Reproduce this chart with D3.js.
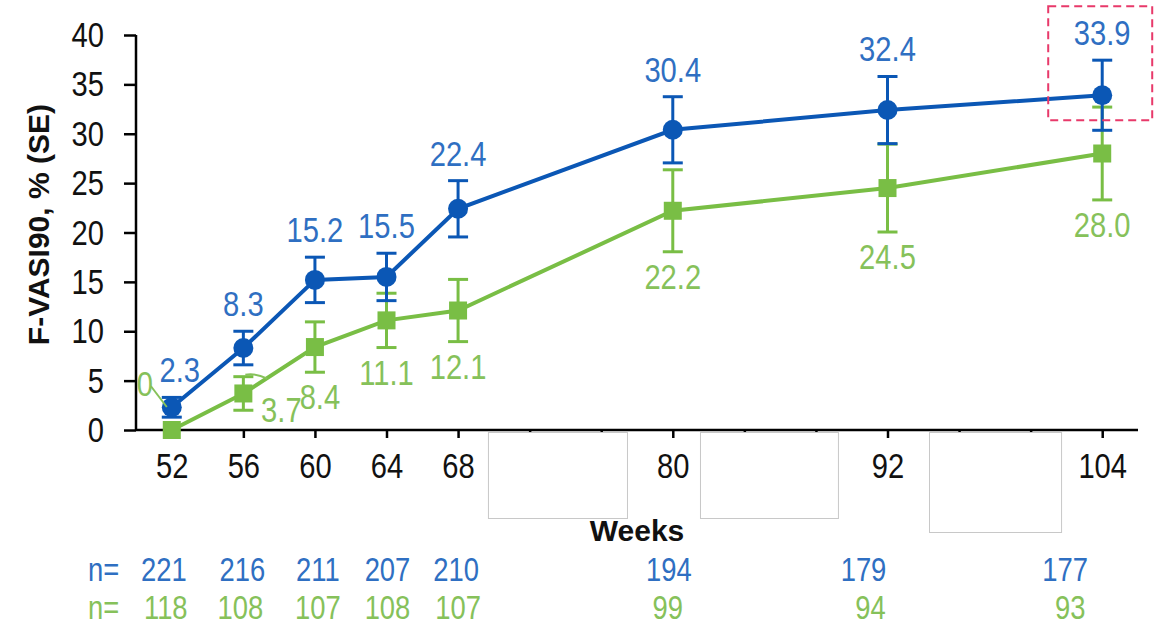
<!DOCTYPE html>
<html>
<head>
<meta charset="utf-8">
<script src="https://cdn.jsdelivr.net/npm/d3@7"></script>
<style>
  html, body { margin: 0; padding: 0; background: #fff; }
  svg { display: block; }
  .num { font-family: "Liberation Sans", Arial, sans-serif; }
  .bold { font-family: "Liberation Sans", Arial, sans-serif; font-weight: bold; }
</style>
</head>
<body>
<svg id="chart" width="1165" height="627"></svg>
<script>
// Visit weeks and response rates (F-VASI90, % with standard error)
const weeks = [52, 56, 60, 64, 68, 80, 92, 104];
const blueValues = [2.3, 8.3, 15.2, 15.5, 22.4, 30.4, 32.4, 33.9];
const blueSE = [1.0, 1.7, 2.3, 2.4, 2.85, 3.35, 3.4, 3.55];
const greenValues = [0, 3.7, 8.4, 11.1, 12.1, 22.2, 24.5, 28.0];
const greenSE = [0, 1.7, 2.55, 2.75, 3.15, 4.15, 4.45, 4.7];
const blueN = [221, 216, 211, 207, 210, 194, 179, 177];
const greenN = [118, 108, 107, 108, 107, 99, 94, 93];
const xTickWeeks = d3.range(52, 105, 4);
const yTickValues = [0, 5, 10, 15, 20, 25, 30, 35, 40];

const colors = {
  blue: "#0B57B5", blueText: "#2F6FC2",
  green: "#79BE45", greenText: "#86C15A",
  axis: "#000", highlight: "#E8396A", box: "#C8C8C8"
};

// Condensed look for numeric text: squeeze horizontally around each anchor
const SQUEEZE = 0.81;
function condense(sel, sx = SQUEEZE) {
  sel.each(function () {
    const t = d3.select(this);
    const x0 = +t.attr("x") || 0;
    t.attr("x", x0 / sx).attr("transform", `scale(${sx},1)`);
  });
}

const svg = d3.select("#chart");
const x = d3.scaleLinear().domain([50, 106]).range([136, 1138]);
const y = d3.scaleLinear().domain([0, 40]).range([430, 35]);

// Axes
const xAxis = d3.axisBottom(x)
  .tickValues(xTickWeeks)
  .tickSize(8)
  .tickPadding(14)
  .tickFormat(d => weeks.includes(d) ? d : "");
const gx = svg.append("g").attr("transform", `translate(0,${y(0)})`).call(xAxis);
gx.select(".domain").attr("d", `M${x(50)},0H${x(106)}`);

const yAxis = d3.axisLeft(y)
  .tickValues(yTickValues)
  .tickSize(12)
  .tickPadding(20);
const gy = svg.append("g").attr("transform", `translate(${x(50)},0)`).call(yAxis);
gy.select(".domain").attr("d", `M0,${y(40)}V${y(0)}`);

svg.selectAll(".domain, .tick line").attr("stroke", colors.axis).attr("stroke-width", 2.5);
svg.selectAll(".tick text")
  .attr("class", "num")
  .attr("font-size", 36)
  .attr("fill", "#111");
gx.selectAll(".tick text").attr("dy", "0.71em");
condense(svg.selectAll(".tick text"));

// White panels over the unlabelled x ticks
const maskBoxes = [[69.67, 77.44, 86], [81.52, 89.23, 86], [94.32, 101.7, 100]];
svg.append("g").selectAll("rect").data(maskBoxes).join("rect")
  .attr("x", d => x(d[0]) + 0.5)
  .attr("y", y(0) + 2.5)
  .attr("width", d => x(d[1]) - x(d[0]))
  .attr("height", d => d[2])
  .attr("fill", "#fff")
  .attr("stroke", colors.box)
  .attr("stroke-width", 1);

// Axis titles
svg.append("text")
  .attr("class", "bold")
  .attr("x", 637).attr("y", 541)
  .attr("text-anchor", "middle")
  .attr("font-size", 30)
  .attr("fill", "#111")
  .text("Weeks");

svg.append("text")
  .attr("class", "bold")
  .attr("transform", `translate(49,${y(20.8)}) rotate(-90)`)
  .attr("text-anchor", "middle")
  .attr("font-size", 30)
  .attr("fill", "#111")
  .text("F-VASI90, % (SE)");

function drawSeries(values, se, color, marker) {
  const pts = weeks.map((w, i) => ({ w, v: values[i], se: se[i] }));
  const g = svg.append("g");
  g.append("path")
    .datum(pts)
    .attr("fill", "none")
    .attr("stroke", color)
    .attr("stroke-width", 4)
    .attr("d", d3.line().x(d => x(d.w)).y(d => y(d.v)));

  const eb = g.append("g").selectAll("g").data(pts.filter(d => d.se > 0)).join("g")
    .attr("stroke", color).attr("stroke-width", 3);
  eb.append("line")
    .attr("x1", d => x(d.w)).attr("x2", d => x(d.w))
    .attr("y1", d => y(d.v + d.se)).attr("y2", d => y(d.v - d.se));
  eb.append("line")
    .attr("x1", d => x(d.w) - 10).attr("x2", d => x(d.w) + 10)
    .attr("y1", d => y(d.v + d.se)).attr("y2", d => y(d.v + d.se));
  eb.append("line")
    .attr("x1", d => x(d.w) - 10).attr("x2", d => x(d.w) + 10)
    .attr("y1", d => y(d.v - d.se)).attr("y2", d => y(d.v - d.se));

  if (marker === "circle") {
    g.append("g").selectAll("circle").data(pts).join("circle")
      .attr("cx", d => x(d.w)).attr("cy", d => y(d.v)).attr("r", 10)
      .attr("fill", color);
  } else {
    g.append("g").selectAll("rect").data(pts).join("rect")
      .attr("x", d => x(d.w) - 9).attr("y", d => y(d.v) - 9)
      .attr("width", 18).attr("height", 18)
      .attr("fill", color);
  }
  return pts;
}

const greenPts = drawSeries(greenValues, greenSE, colors.green, "square");
const bluePts = drawSeries(blueValues, blueSE, colors.blue, "circle");

// Value labels: blue above the error bar, green below it
svg.append("g").selectAll("text").data(bluePts).join("text")
  .attr("class", "num")
  .attr("x", d => x(d.w) + (d.w === 52 ? 8 : 0))
  .attr("y", d => y(d.v + d.se) - 15)
  .attr("text-anchor", "middle")
  .attr("font-size", 36)
  .attr("fill", colors.blueText)
  .text(d => d.v.toFixed(1))
  .call(condense);

const greenLabelPos = d => {
  if (d.w === 52) return [x(d.w) - 27, y(d.v) - 34];
  if (d.w === 56) return [x(d.w) + 38, y(d.v) + 29];
  return [x(d.w) + (d.w === 60 ? 5 : 0), y(d.v - d.se) + 37];
};
svg.append("g").selectAll("text").data(greenPts).join("text")
  .attr("class", "num")
  .attr("x", d => greenLabelPos(d)[0])
  .attr("y", d => greenLabelPos(d)[1])
  .attr("text-anchor", "middle")
  .attr("font-size", 36)
  .attr("fill", colors.greenText)
  .text(d => d.v === 0 ? "0" : d.v.toFixed(1))
  .call(condense);

// Leader lines for the two displaced green labels
const leaders = svg.append("g").attr("fill", "none").attr("stroke", colors.greenText).attr("stroke-width", 2);
leaders.append("path")
  .attr("d", `M${x(52) - 21},${y(0) - 44} L${x(52) - 5},${y(0) - 23}`);
leaders.append("path")
  .attr("d", `M${x(56) + 2},${y(5.6)} Q${x(56) + 12},${y(5.8)} ${x(56) + 24},${y(5.2)}`);

// Highlight frame around the final blue value
const fx = x(104), fy = y(33.9);
svg.append("rect")
  .attr("x", fx - 54).attr("y", fy - 89)
  .attr("width", 104).attr("height", 114)
  .attr("fill", "none")
  .attr("stroke", colors.highlight)
  .attr("stroke-width", 2)
  .attr("stroke-dasharray", "8,5");

// Sample sizes per visit
const nShift = [-8, -1, 3, 1, -2, -4, -24, -37];
const nShiftGreen = [-6, -3, 3, 1, 0, -5, -17, -32];
const nRows = [
  { values: blueN, color: colors.blueText, baseline: 581, shift: nShift },
  { values: greenN, color: colors.greenText, baseline: 619, shift: nShiftGreen }
];
nRows.forEach(row => {
  const g = svg.append("g").attr("class", "num").attr("font-size", 33).attr("fill", row.color);
  g.append("text").attr("x", 88).attr("y", row.baseline).text("n=").call(condense, 0.83);
  g.selectAll("text.n").data(row.values).join("text")
    .attr("class", "n")
    .attr("x", (d, i) => x(weeks[i]) + row.shift[i])
    .attr("y", row.baseline)
    .attr("text-anchor", "middle")
    .text(d => d)
    .call(condense, 0.83);
});
</script>
</body>
</html>
